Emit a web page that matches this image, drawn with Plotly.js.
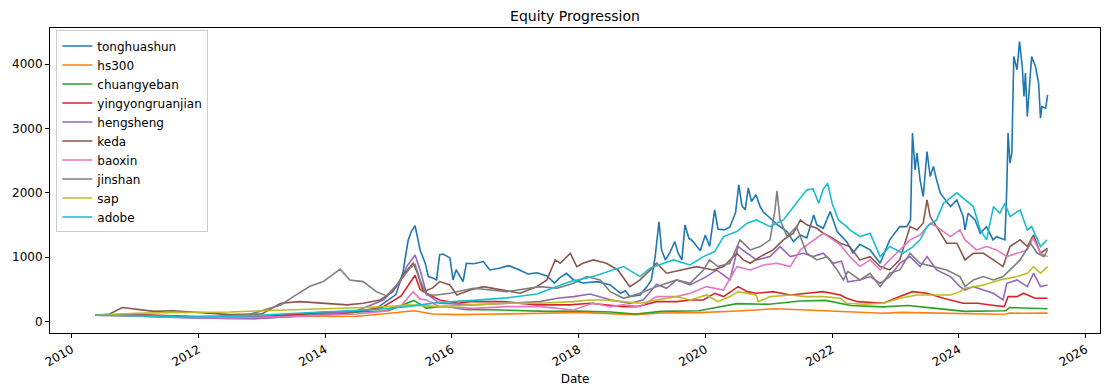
<!DOCTYPE html>
<html>
<head>
<meta charset="utf-8">
<script src="https://cdn.plot.ly/plotly-3.0.1.min.js"></script>
<style>html,body{margin:0;padding:0;background:#fff;}#chart{width:1106px;height:389px;}</style>
</head>
<body>
<div id="chart"></div>
<script>
// Dates are decimal years; values are equity levels.
const seriesNames = ["tonghuashun","hs300","chuangyeban","yingyongruanjian","hengsheng","keda","baoxin","jinshan","sap","adobe"];

const tonghuashunT = [2010.38,2010.7,2011.0,2011.4,2011.8,2012.2,2012.6,2012.9,2013.2,2013.6,2014.0,2014.4,2014.8,2015.0,2015.12,2015.23,2015.31,2015.36,2015.42,2015.46,2015.5,2015.58,2015.63,2015.7,2015.76,2015.81,2015.86,2015.97,2016.02,2016.07,2016.18,2016.23,2016.35,2016.5,2016.6,2016.75,2016.9,2017.05,2017.2,2017.34,2017.5,2017.62,2017.7,2017.81,2017.92,2018.07,2018.2,2018.3,2018.5,2018.66,2018.74,2018.81,2018.97,2019.08,2019.15,2019.21,2019.27,2019.31,2019.37,2019.44,2019.52,2019.57,2019.63,2019.68,2019.74,2019.81,2019.92,2020.0,2020.07,2020.15,2020.2,2020.3,2020.39,2020.48,2020.53,2020.58,2020.63,2020.68,2020.73,2020.8,2020.87,2020.92,2021.02,2021.13,2021.29,2021.39,2021.5,2021.6,2021.71,2021.76,2021.86,2021.97,2022.08,2022.23,2022.33,2022.44,2022.6,2022.76,2022.91,2023.07,2023.18,2023.24,2023.27,2023.31,2023.34,2023.39,2023.44,2023.5,2023.55,2023.6,2023.65,2023.71,2023.79,2023.87,2023.97,2024.07,2024.1,2024.15,2024.26,2024.34,2024.44,2024.54,2024.6,2024.73,2024.76,2024.78,2024.81,2024.84,2024.87,2024.92,2024.96,2025.0,2025.03,2025.05,2025.08,2025.13,2025.15,2025.21,2025.24,2025.26,2025.29,2025.31,2025.37,2025.4];
const tonghuashunV = [100,105,90,75,60,55,48,45,65,85,110,135,200,330,420,777,1260,1400,1490,1300,1114,912,700,680,648,1040,1050,990,648,806,622,907,900,933,803,830,870,810,740,760,710,600,680,750,648,600,610,622,570,441,480,389,415,544,648,1010,1550,1114,959,1067,1243,1067,959,1503,1300,1243,1100,1347,1170,1736,1440,1425,1470,1700,2124,1800,1736,2077,1865,1970,1780,1700,1610,1510,1399,1243,1347,1300,1658,1503,1450,1710,1399,1243,1070,1200,1114,907,1270,1476,1476,1580,2928,2357,2617,2202,1943,2642,2254,2409,2202,1995,1891,1787,1891,1632,1425,1684,1580,1373,1476,1270,1320,1270,2098,2928,2461,2620,4118,3911,4351,3963,3497,3860,3186,3807,4118,3963,3756,3705,3160,3341,3315,3523];

const hs300T = [2010.38,2010.9,2011.5,2012.0,2012.5,2013.0,2013.5,2014.0,2014.5,2014.9,2015.4,2015.7,2016.1,2016.5,2017.0,2017.5,2018.0,2018.5,2018.9,2019.3,2019.9,2020.5,2021.1,2021.6,2022.0,2022.5,2022.8,2023.1,2023.6,2024.0,2024.6,2024.75,2024.8,2025.0,2025.4];
const hs300V = [100,110,95,80,85,90,80,80,85,120,170,120,110,115,120,130,145,125,110,135,140,165,200,180,165,150,130,145,135,120,115,118,135,130,132];

const chuangyebanT = [2010.38,2010.9,2011.5,2012.0,2012.5,2013.0,2013.5,2014.0,2014.5,2015.0,2015.4,2015.6,2015.9,2016.2,2016.8,2017.5,2018.0,2018.5,2018.9,2019.3,2019.9,2020.5,2021.0,2021.5,2021.9,2022.3,2022.8,2023.2,2023.6,2024.1,2024.7,2024.75,2024.8,2025.0,2025.4];
const chuangyebanV = [100,110,85,70,70,75,110,130,140,170,330,210,240,190,180,160,165,150,120,160,170,280,270,320,330,250,230,250,210,160,170,172,220,210,200];

const yingyongruanjianT = [2010.38,2010.9,2011.5,2012.0,2012.5,2013.0,2013.5,2014.0,2014.5,2014.9,2015.2,2015.42,2015.5,2015.6,2015.81,2016.1,2016.29,2016.81,2017.34,2017.87,2018.18,2018.39,2018.7,2018.92,2019.23,2019.55,2019.76,2019.97,2020.15,2020.29,2020.52,2020.66,2020.81,2021.07,2021.34,2021.6,2021.86,2022.13,2022.23,2022.4,2022.81,2023.07,2023.27,2023.5,2023.76,2024.07,2024.3,2024.5,2024.72,2024.78,2024.92,2025.02,2025.2,2025.4];
const yingyongruanjianV = [100,115,90,70,65,70,110,150,160,220,400,720,500,440,337,285,311,311,260,260,285,260,233,233,311,311,337,337,441,389,544,466,441,466,415,441,466,415,363,311,285,389,466,441,363,285,285,260,233,389,389,441,363,363];

const hengshengT = [2010.38,2010.9,2011.5,2012.0,2012.5,2013.0,2013.5,2014.0,2014.5,2014.92,2015.18,2015.29,2015.42,2015.5,2015.6,2015.7,2015.81,2016.34,2016.87,2017.39,2017.66,2017.92,2018.18,2018.34,2018.5,2018.81,2019.02,2019.23,2019.39,2019.55,2019.76,2020.02,2020.18,2020.39,2020.52,2020.66,2020.81,2021.02,2021.18,2021.34,2021.55,2021.7,2021.86,2022.02,2022.15,2022.25,2022.44,2022.6,2022.76,2022.91,2023.07,2023.23,2023.39,2023.5,2023.65,2023.87,2024.02,2024.1,2024.23,2024.39,2024.55,2024.7,2024.76,2024.92,2025.08,2025.18,2025.29,2025.4];
const hengshengV = [100,95,70,55,50,55,80,120,170,337,600,855,1036,803,440,360,285,260,285,311,363,389,430,389,340,285,337,580,518,648,570,700,803,648,1166,1062,959,1010,1166,1010,1062,1010,1062,907,940,620,648,700,596,700,907,1010,855,1010,803,700,544,492,544,492,441,337,596,648,544,752,544,570];

const kedaT = [2010.38,2010.6,2010.8,2011.0,2011.3,2011.6,2012.0,2012.5,2013.0,2013.3,2013.6,2014.0,2014.35,2014.6,2014.87,2015.07,2015.23,2015.39,2015.45,2015.55,2015.7,2015.81,2015.97,2016.08,2016.29,2016.5,2016.81,2017.08,2017.34,2017.5,2017.63,2017.71,2017.87,2017.97,2018.07,2018.23,2018.44,2018.62,2018.81,2018.97,2019.13,2019.23,2019.39,2019.65,2019.86,2020.13,2020.29,2020.5,2020.6,2020.71,2020.87,2021.07,2021.23,2021.39,2021.5,2021.6,2021.76,2021.86,2021.97,2022.13,2022.28,2022.44,2022.6,2022.76,2022.91,2023.07,2023.23,2023.34,2023.44,2023.5,2023.55,2023.65,2023.81,2023.97,2024.1,2024.23,2024.39,2024.55,2024.7,2024.81,2024.97,2025.08,2025.18,2025.29,2025.4];
const kedaV = [100,120,220,200,160,170,140,110,120,285,311,285,260,285,337,466,725,907,777,466,524,622,570,415,492,544,492,441,544,648,959,907,1062,855,907,959,907,803,544,648,803,907,752,803,855,803,855,1062,959,907,1010,1114,1270,1373,1580,1503,1450,1373,1321,1218,1166,959,1010,855,803,959,1476,1425,1529,1891,1632,1476,1218,1218,959,1062,1062,959,855,1166,1270,1166,1347,1062,1140];

const baoxinT = [2010.38,2011.0,2011.5,2012.0,2012.5,2013.0,2013.5,2014.0,2014.5,2014.9,2015.2,2015.39,2015.5,2015.6,2015.81,2016.34,2016.87,2017.39,2017.92,2018.23,2018.5,2018.7,2018.97,2019.23,2019.55,2019.76,2020.02,2020.29,2020.5,2020.71,2020.92,2021.13,2021.34,2021.5,2021.65,2021.86,2021.97,2022.13,2022.28,2022.44,2022.6,2022.76,2022.91,2023.07,2023.23,2023.39,2023.55,2023.65,2023.87,2024.02,2024.1,2024.28,2024.44,2024.6,2024.76,2024.92,2025.08,2025.17,2025.29,2025.4];
const baoxinV = [100,85,70,60,60,65,80,100,120,160,250,466,350,337,233,207,233,233,182,290,233,260,233,389,389,441,544,492,855,803,881,907,855,1114,1218,1373,1300,1192,1010,855,959,803,959,1114,1270,1347,1529,1476,1321,1425,1270,1114,1166,1114,1010,1062,1114,1300,1062,1010];

const jinshanT = [2010.38,2010.8,2011.3,2011.8,2012.3,2012.8,2013.1,2013.3,2013.5,2013.76,2013.97,2014.24,2014.39,2014.6,2014.81,2014.97,2015.13,2015.34,2015.42,2015.5,2015.6,2015.76,2015.97,2016.34,2016.87,2017.39,2017.66,2017.92,2018.13,2018.34,2018.5,2018.71,2018.97,2019.23,2019.55,2019.76,2019.97,2020.07,2020.2,2020.39,2020.55,2020.71,2020.87,2021.02,2021.1,2021.13,2021.18,2021.29,2021.44,2021.6,2021.76,2021.92,2022.08,2022.18,2022.25,2022.44,2022.6,2022.76,2022.91,2023.07,2023.23,2023.39,2023.6,2023.81,2024.02,2024.1,2024.23,2024.39,2024.55,2024.7,2024.81,2024.97,2025.13,2025.24,2025.34,2025.4];
const jinshanV = [100,110,95,80,85,110,200,260,389,550,622,815,648,622,466,400,570,830,890,648,415,415,440,518,466,544,518,596,700,648,466,363,441,544,648,596,803,959,855,907,1270,1114,1166,1270,1736,2030,1580,1321,1476,1062,959,1010,803,648,780,648,752,544,752,803,1062,907,855,803,700,544,648,700,648,700,803,959,1218,1062,1010,1114];

const sapT = [2010.38,2011.0,2011.5,2012.0,2012.5,2013.0,2013.5,2014.0,2014.5,2015.0,2015.3,2015.81,2016.34,2016.87,2017.39,2017.92,2018.18,2018.39,2018.7,2018.97,2019.23,2019.55,2019.76,2020.02,2020.2,2020.39,2020.52,2020.66,2020.8,2020.84,2021.02,2021.34,2021.6,2021.86,2022.13,2022.23,2022.5,2022.81,2023.07,2023.34,2023.87,2024.02,2024.1,2024.39,2024.65,2024.92,2025.08,2025.18,2025.29,2025.4];
const sapV = [100,130,140,140,150,170,190,200,215,235,260,233,260,285,285,311,337,337,311,285,337,389,337,415,311,389,466,441,415,311,389,415,389,389,363,285,270,285,363,415,415,466,518,570,648,700,752,855,752,855];

const adobeT = [2010.38,2010.8,2011.3,2011.8,2012.3,2012.8,2013.3,2013.8,2014.3,2014.8,2015.29,2015.81,2016.34,2016.87,2017.34,2017.87,2018.23,2018.5,2018.71,2018.97,2019.13,2019.34,2019.5,2019.76,2019.97,2020.15,2020.29,2020.5,2020.66,2020.81,2021.02,2021.23,2021.44,2021.6,2021.7,2021.79,2021.86,2021.93,2022.0,2022.1,2022.23,2022.28,2022.44,2022.6,2022.76,2022.91,2023.12,2023.28,2023.39,2023.5,2023.65,2023.76,2023.97,2024.1,2024.23,2024.34,2024.44,2024.55,2024.65,2024.73,2024.81,2024.97,2025.08,2025.15,2025.29,2025.39];
const adobeV = [100,95,85,70,75,90,120,140,160,190,233,300,330,370,430,622,700,790,855,700,830,907,959,881,1010,1088,1321,1399,1529,1580,1476,1580,1840,2047,2060,1840,2060,2150,1840,1580,1476,1425,1321,1373,1010,1166,1062,1166,1270,1476,1580,1840,2000,1891,1787,1425,1270,1787,1684,1840,1632,1736,1425,1476,1166,1270];

const seriesColors = ["#1f77b4","#ff7f0e","#2ca02c","#d62728","#9467bd","#8c564b","#e377c2","#7f7f7f","#bcbd22","#17becf"];
const xTickVals = ["2010-01-01","2012-01-01","2014-01-01","2016-01-01","2018-01-01","2020-01-01","2022-01-01","2024-01-01","2026-01-01"];
const xTickText = ["2010","2012","2014","2016","2018","2020","2022","2024","2026"];
const yTickVals = [0,1000,2000,3000,4000];

function toDate(y) {
  const yr = Math.floor(y);
  const ms = Date.UTC(yr, 0, 1) + (y - yr) * 365.25 * 86400000;
  return new Date(ms).toISOString().slice(0, 10);
}

const allT = [tonghuashunT,hs300T,chuangyebanT,yingyongruanjianT,hengshengT,kedaT,baoxinT,jinshanT,sapT,adobeT];
const allV = [tonghuashunV,hs300V,chuangyebanV,yingyongruanjianV,hengshengV,kedaV,baoxinV,jinshanV,sapV,adobeV];

const traces = seriesNames.map((n, i) => ({
  type: "scatter", mode: "lines", name: n,
  x: allT[i].map(toDate), y: allV[i],
  line: {color: seriesColors[i], width: 1.6}
}));

const font = {family: "DejaVu Sans, sans-serif", size: 12, color: "#000"};
const layout = {
  width: 1106, height: 389,
  margin: {l: 50, r: 6, t: 28, b: 56},
  paper_bgcolor: "#fff", plot_bgcolor: "#fff",
  font: font,
  showlegend: true,
  title: {text: "Equity Progression", font: {family: "DejaVu Sans, sans-serif", size: 14, color: "#000"},
          x: 0.5, xref: "paper", y: 0.958, yref: "container", yanchor: "middle"},
  xaxis: {
    type: "date", range: ["2009-08-29", "2026-03-25"],
    tickvals: xTickVals, ticktext: xTickText, tickangle: -30,
    ticks: "outside", ticklen: 4, tickwidth: 1, tickcolor: "#000",
    showline: true, linecolor: "#000", linewidth: 1, mirror: true,
    showgrid: false, zeroline: false,
    tickfont: font,
    title: {text: "Date", font: font, standoff: 6}
  },
  yaxis: {
    range: [-176, 4560],
    tickvals: yTickVals,
    ticks: "outside", ticklen: 4, tickwidth: 1, tickcolor: "#000",
    showline: true, linecolor: "#000", linewidth: 1, mirror: true,
    showgrid: false, zeroline: false,
    tickfont: font
  },
  legend: {
    x: 0.006, y: 0.992, xanchor: "left", yanchor: "top",
    bgcolor: "rgba(255,255,255,0.8)", bordercolor: "#cccccc", borderwidth: 1,
    font: font, itemwidth: 30, tracegroupgap: 0,
    entrywidth: 112, entrywidthmode: "pixels"
  }
};

Plotly.newPlot("chart", traces, layout, {staticPlot: true});
</script>
</body>
</html>
